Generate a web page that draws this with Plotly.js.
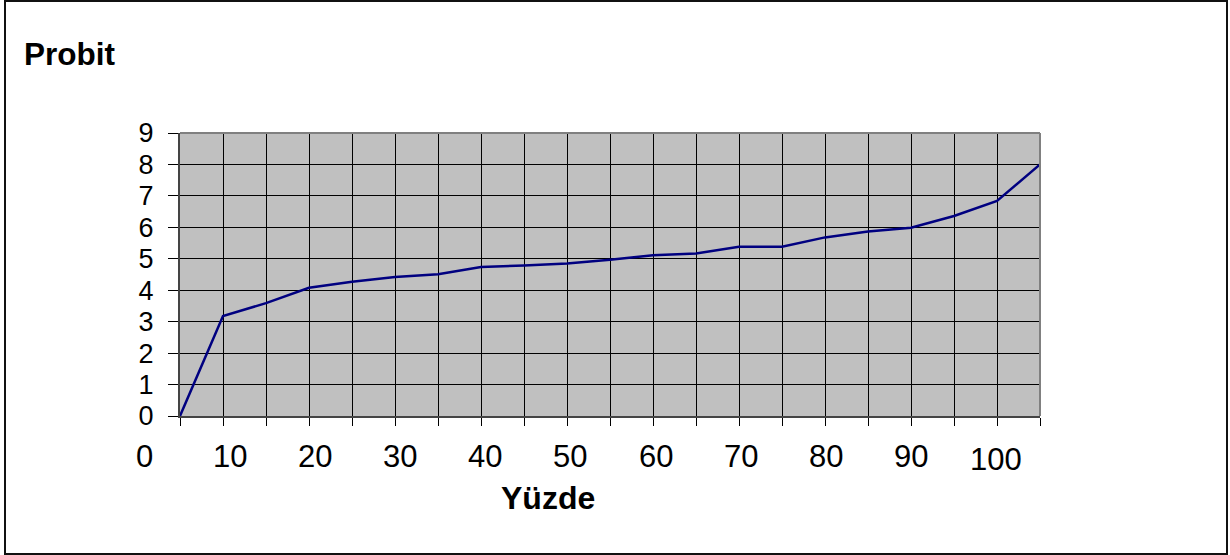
<!DOCTYPE html>
<html>
<head>
<meta charset="utf-8">
<script src="https://cdn.plot.ly/plotly-3.0.1.min.js"></script>
<style>
  html, body { margin: 0; padding: 0; background: #fff; }
  #frame { position: absolute; left: 4px; top: 0px; width: 1220px; height: 551px; border: 2px solid #111; }
  #chart { position: absolute; left: 0; top: 0; width: 1230px; height: 555px; }
</style>
</head>
<body>
<div id="frame"></div>
<div id="chart"></div>
<script>
// Data points (one per category position)
const pointIndex = [0, 1, 2, 3, 4, 5, 6, 7, 8, 9, 10, 11, 12, 13, 14, 15, 16, 17, 18, 19, 20];
const probitValues = [0, 3.18, 3.59, 4.08, 4.27, 4.42, 4.51, 4.74, 4.79, 4.85, 4.97,
                      5.11, 5.17, 5.38, 5.38, 5.68, 5.87, 5.99, 6.36, 6.84, 8.0];
const xTickLabels = ['0', '10', '20', '30', '40', '50', '60', '70', '80', '90', '100'];
const yTickValues = [0, 1, 2, 3, 4, 5, 6, 7, 8, 9];
const chartTitle = 'Probit';
const xAxisTitle = 'Yüzde';

const FONT = 'Liberation Sans, Arial, Helvetica, sans-serif';
const X_TICK_SIZE = 31;
const Y_TICK_SIZE = 27;
const X_RANGE = [0, 20];

const annotations = xTickLabels.map((t, i) => ({
  text: t,
  x: (-0.82 + 1.98 * i - X_RANGE[0]) / (X_RANGE[1] - X_RANGE[0]),
  xref: 'paper',
  y: (t === '100') ? -0.155 : -0.143,
  yref: 'paper',
  showarrow: false,
  xanchor: 'center',
  yanchor: 'middle',
  font: { family: FONT, size: X_TICK_SIZE, color: '#000' }
}));

annotations.push({
  text: '<b>' + xAxisTitle + '</b>',
  x: (548 - 180) / 860, xref: 'paper',
  y: (415.7 - 498) / 283, yref: 'paper',
  showarrow: false, xanchor: 'center', yanchor: 'middle',
  font: { family: FONT, size: 32, color: '#000' }
});
annotations.push({
  text: '<b>' + chartTitle + '</b>',
  x: (22 - 180) / 860, xref: 'paper',
  y: (415.7 - 54) / 283, yref: 'paper',
  showarrow: false, xanchor: 'left', yanchor: 'middle',
  font: { family: FONT, size: 31.5, color: '#000' }
});

const trace = {
  x: pointIndex,
  y: probitValues,
  type: 'scatter',
  mode: 'lines',
  line: { color: '#000080', width: 2.5 },
  hoverinfo: 'x+y'
};

const layout = {
  width: 1230,
  height: 555,
  margin: { l: 180, r: 190, t: 133, b: 139, pad: 0 },
  paper_bgcolor: 'rgba(0,0,0,0)',
  plot_bgcolor: '#c0c0c0',
  showlegend: false,
  font: { family: FONT, color: '#000' },
  xaxis: {
    range: X_RANGE,
    tickmode: 'linear', tick0: 0, dtick: 1,
    showgrid: true, gridcolor: '#000', gridwidth: 1,
    zeroline: false,
    showline: true, linecolor: '#444', linewidth: 2,
    ticks: 'outside', ticklen: 8, tickcolor: '#000', tickwidth: 1,
    showticklabels: false,
    fixedrange: true
  },
  yaxis: {
    range: [0, 9],
    tickmode: 'array', tickvals: yTickValues,
    ticktext: yTickValues.map(String),
    showgrid: true, gridcolor: '#000', gridwidth: 1,
    zeroline: false,
    showline: true, linecolor: '#444', linewidth: 2,
    ticks: 'outside', ticklen: 10, tickcolor: '#000', tickwidth: 1,
    ticklabelstandoff: 9,
    tickfont: { family: FONT, size: Y_TICK_SIZE, color: '#000' },
    fixedrange: true
  },
  shapes: [
    { type: 'line', xref: 'paper', yref: 'paper', x0: 0, x1: 1, y0: 1, y1: 1,
      line: { color: '#808080', width: 2 } },
    { type: 'line', xref: 'paper', yref: 'paper', x0: 1, x1: 1, y0: 0, y1: 1,
      line: { color: '#808080', width: 2 } }
  ],
  annotations: annotations
};

Plotly.newPlot('chart', [trace], layout, { displayModeBar: false, staticPlot: true });
</script>
</body>
</html>
